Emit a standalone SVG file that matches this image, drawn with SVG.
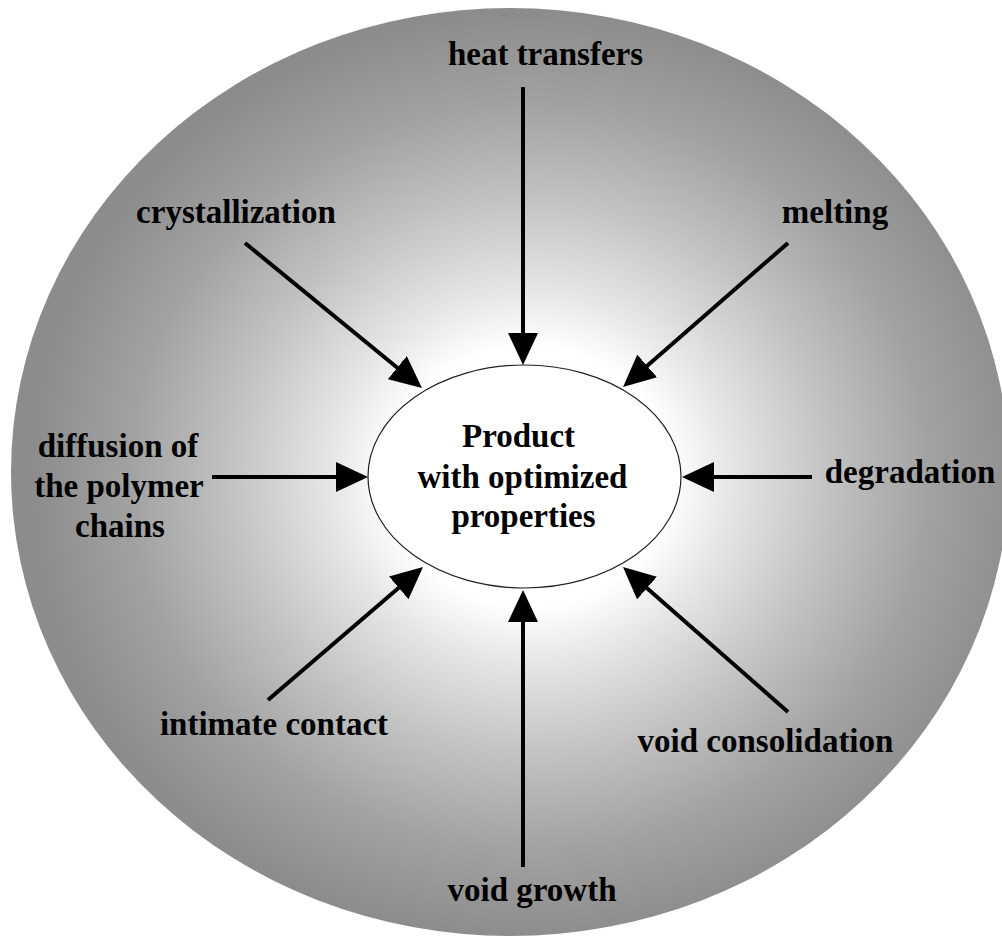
<svg xmlns="http://www.w3.org/2000/svg" width="1002" height="940" viewBox="0 0 1002 940">
  <defs>
    <radialGradient id="halo" cx="0.52" cy="0.505" r="0.5" fx="0.52" fy="0.505">
      <stop offset="0" stop-color="#ffffff"/>
      <stop offset="0.28" stop-color="#ffffff"/>
      <stop offset="0.4" stop-color="#e6e6e6"/>
      <stop offset="0.6" stop-color="#c2c2c2"/>
      <stop offset="0.8" stop-color="#a2a2a2"/>
      <stop offset="1" stop-color="#8c8c8c"/>
    </radialGradient>
    <marker id="head" markerUnits="userSpaceOnUse" markerWidth="32" markerHeight="30" viewBox="0 0 32 30" refX="12" refY="15" orient="auto">
      <path d="M0,0 L32,15 L0,30 z" fill="#000"/>
    </marker>
  </defs>
  <style>
    .lbl { font-family: "Liberation Serif", "Times New Roman", serif; font-weight: bold; font-size: 33px; fill: #000; }
    .arr { stroke: #000; stroke-width: 4; fill: none; marker-end: url(#head); }
  </style>

  <rect width="1002" height="940" fill="#ffffff"/>

  <!-- outer shaded disc -->
  <ellipse id="backdrop" cx="510" cy="472" rx="499" ry="464" fill="url(#halo)"/>

  <!-- connectors: each factor points at the product -->
  <g id="connectors">
    <line class="arr" x1="523" y1="87" x2="523" y2="345"/>
    <line class="arr" x1="245" y1="243" x2="406.5" y2="375.3"/>
    <line class="arr" x1="788" y1="243" x2="638.1" y2="373.8"/>
    <line class="arr" x1="212" y1="477" x2="348" y2="477"/>
    <line class="arr" x1="812" y1="477" x2="702" y2="477"/>
    <line class="arr" x1="268" y1="700" x2="407.8" y2="580"/>
    <line class="arr" x1="523" y1="867" x2="523" y2="610"/>
    <line class="arr" x1="788" y1="712" x2="638" y2="580.2"/>
  </g>

  <!-- central product -->
  <g id="product">
    <ellipse cx="524.5" cy="476.5" rx="156.5" ry="111.5" fill="#ffffff" stroke="#222" stroke-width="1.2"/>
    <text class="lbl" x="518.5" y="447" text-anchor="middle">Product</text>
    <text class="lbl" x="522.5" y="488" text-anchor="middle">with optimized</text>
    <text class="lbl" x="523.5" y="527" text-anchor="middle">properties</text>
  </g>

  <g id="heat-transfers">
    <text class="lbl" x="545.5" y="65" text-anchor="middle">heat transfers</text>
  </g>
  <g id="crystallization">
    <text class="lbl" x="236" y="223" text-anchor="middle">crystallization</text>
  </g>
  <g id="melting">
    <text class="lbl" x="835" y="223" text-anchor="middle">melting</text>
  </g>
  <g id="diffusion">
    <text class="lbl" x="118" y="457" text-anchor="middle">diffusion of</text>
    <text class="lbl" x="119" y="497" text-anchor="middle">the polymer</text>
    <text class="lbl" x="120" y="537" text-anchor="middle">chains</text>
  </g>
  <g id="degradation">
    <text class="lbl" x="910" y="483" text-anchor="middle">degradation</text>
  </g>
  <g id="intimate-contact">
    <text class="lbl" x="274" y="735" text-anchor="middle">intimate contact</text>
  </g>
  <g id="void-consolidation">
    <text class="lbl" x="765.5" y="752" text-anchor="middle">void consolidation</text>
  </g>
  <g id="void-growth">
    <text class="lbl" x="532" y="901" text-anchor="middle">void growth</text>
  </g>
</svg>
